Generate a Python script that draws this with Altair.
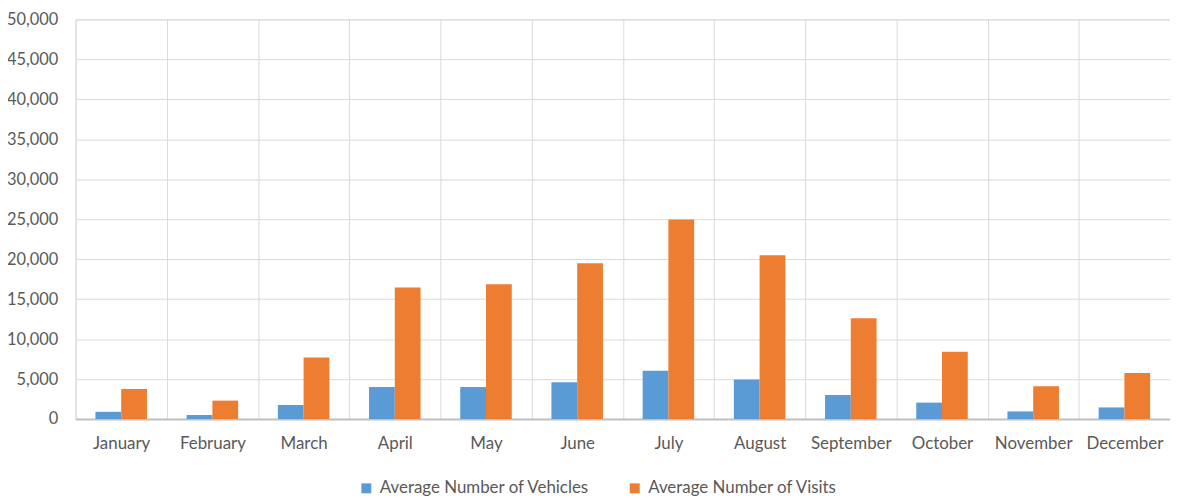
import altair as alt
import pandas as pd

months = ["January", "February", "March", "April", "May", "June", "July",
          "August", "September", "October", "November", "December"]
vehicles = [900, 500, 1750, 4000, 4000, 4600, 6050, 4950, 3000, 2050, 950, 1450]
visits = [3750, 2300, 7700, 16450, 16850, 19500, 24950, 20500, 12600, 8400, 4100, 5750]
series = ["Average Number of Vehicles", "Average Number of Visits"]
colors = ["#5B9BD5", "#ED7D31"]
y_ticks = list(range(0, 50001, 5000))

rows = []
for m, a, b in zip(months, vehicles, visits):
    rows.append({"month": m, "series": series[0], "value": a})
    rows.append({"month": m, "series": series[1], "value": b})
df = pd.DataFrame(rows)

FONT = "Lato"
LABEL = "#595959"
GRID = "#d9d9d9"

chart = alt.Chart(df).mark_bar().encode(
    x=alt.X("month:N", sort=months,
            scale=alt.Scale(paddingInner=0, paddingOuter=0),
            axis=alt.Axis(title=None, labelAngle=0, grid=True, tickBand="extent",
                          gridColor=GRID, gridWidth=1, ticks=False,
                          domainColor="#bfbfbf", domainWidth=2,
                          labelFont=FONT, labelFontSize=17, labelColor=LABEL,
                          labelPadding=17)),
    xOffset=alt.XOffset("series:N", sort=series,
                        scale=alt.Scale(paddingInner=0, paddingOuter=0.77)),
    y=alt.Y("value:Q", scale=alt.Scale(domain=[0, 50000], nice=False),
            axis=alt.Axis(title=None, values=y_ticks, format=",d", grid=True,
                          gridColor=GRID, gridWidth=1, ticks=False, domain=False,
                          labelFont=FONT, labelFontSize=16.5, labelColor=LABEL,
                          labelPadding=18)),
    color=alt.Color("series:N", sort=series,
                    scale=alt.Scale(domain=series, range=colors),
                    legend=alt.Legend(title=None, orient="none", direction="horizontal",
                                      legendX=284, legendY=463,
                                      symbolType="square", symbolSize=100,
                                      symbolStrokeWidth=0, columnPadding=36,
                                      labelLimit=0,
                                      labelFont=FONT, labelFontSize=17,
                                      labelColor=LABEL, labelOffset=5)),
).properties(
    width=1101, height=402,
    autosize=alt.AutoSizeParams(type="none"),
    padding={"left": 68, "top": 10, "right": 0, "bottom": 79},
).configure_view(stroke=None).configure(background="white")

chart.save("out.html", embed_options={"renderer": "svg", "actions": False})
